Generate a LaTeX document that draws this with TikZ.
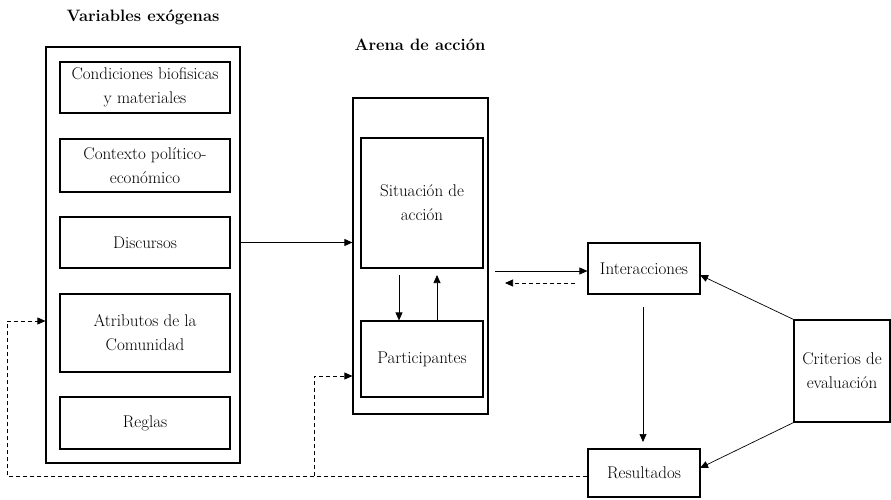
\documentclass[tikz,border=0pt]{standalone}
\usepackage{fontspec}
\usetikzlibrary{arrows.meta}
\begin{document}
\begin{tikzpicture}[x=1pt,y=-1pt,
        box/.style={draw,line width=1.2pt,align=center,inner sep=0pt,font=\fontsize{17}{24}\selectfont},
        titel/.style={font=\bfseries\fontsize{16.5}{20}\selectfont},
        pfeil/.style={line width=0.7pt,-{Triangle[length=8pt,width=7pt]}},
        rueck/.style={pfeil,dashed,dash pattern=on 4pt off 3pt}]
        \useasboundingbox (0,0) rectangle (891,500);
        % Variables exogenas
        \node[titel] (tvar) at (143,17) {Variables exógenas};
        \node[box,minimum width=194pt,minimum height=416pt] (var) at (143,255) {};
        \node[box,minimum width=170pt,minimum height=51pt] (cond) at (145,87.5) {Condiciones biofisicas\\y materiales};
        \node[box,minimum width=170pt,minimum height=53pt] (ctx) at (145,165.5) {Contexto político-\\económico};
        \node[box,minimum width=170pt,minimum height=51pt] (disc) at (145,242.5) {Discursos};
        \node[box,minimum width=170pt,minimum height=78pt] (atr) at (145,333) {Atributos de la\\Comunidad};
        \node[box,minimum width=170pt,minimum height=52pt] (reg) at (145,423) {Reglas};
        % Arena de accion
        \node[titel] (tarena) at (420,45) {Arena de acción};
        \node[box,minimum width=135pt,minimum height=316pt] (arena) at (420.5,256) {};
        \node[box,minimum width=122pt,minimum height=130pt] (sit) at (422,203) {Situación de\\acción};
        \node[box,minimum width=122pt,minimum height=76pt] (part) at (422,359) {Participantes};
        % rechts
        \node[box,minimum width=112pt,minimum height=51pt] (inter) at (644,268.5) {Interacciones};
        \node[box,minimum width=112pt,minimum height=48pt] (res) at (644,473) {Resultados};
        \node[box,minimum width=96pt,minimum height=102pt] (crit) at (842,371) {Criterios de\\evaluación};
        \coordinate (a1) at (495,271); \coordinate (a2) at (575,283); \coordinate (a3) at (505,283);
        \coordinate (s1) at (399,275); \coordinate (s2) at (437,275);
        \coordinate (i1) at (643,307); \coordinate (i2) at (643,442);
        \coordinate (r1) at (7,476); \coordinate (r2) at (314,476);
        \draw[pfeil] (var.east |- disc.east) -- (arena.west |- disc.east);
        \draw[pfeil] (s1) -- (s1 |- part.north);
        \draw[pfeil] (s2 |- part.north) -- (s2);
        \draw[pfeil] (a1) -- (inter.west |- a1);
        \draw[rueck] (a2) -- (a3);
        \draw[pfeil] (i1) -- (i2);
        \draw[pfeil] (crit.north west) -- (700,275);
        \draw[pfeil] (crit.south west) -- (700,468);
        \draw[rueck] (res.west |- r1) -- (r1) -- (7,321) -- (var.west |- 0,321);
        \draw[rueck] (r2) -- (314,376) -- (arena.west |- 0,376);
\end{tikzpicture}
\end{document}
